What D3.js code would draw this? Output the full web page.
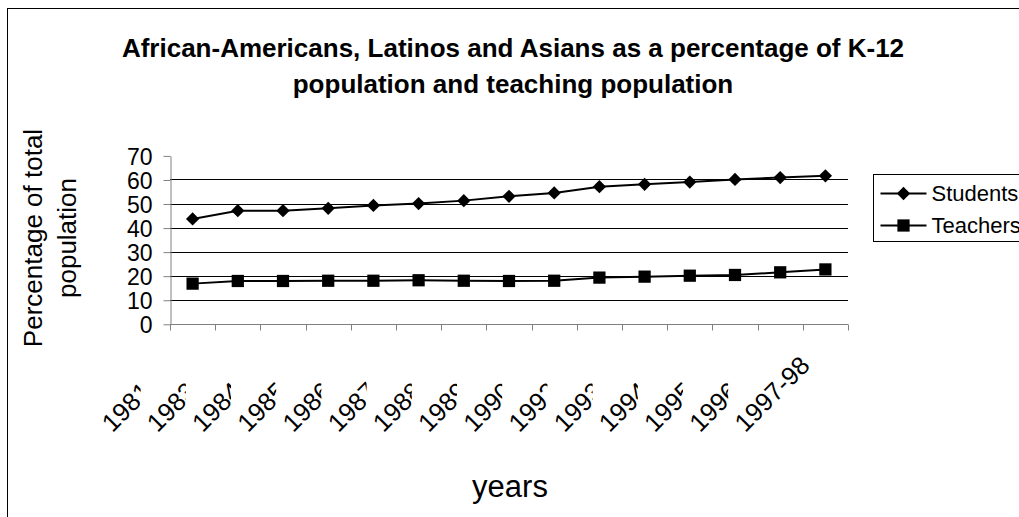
<!DOCTYPE html>
<html>
<head>
<meta charset="utf-8">
<script src="https://cdn.jsdelivr.net/npm/d3@7"></script>
<style>
  body { margin: 0; background: #fff; }
  svg { display: block; font-family: Arial, "Liberation Sans", sans-serif; }
</style>
</head>
<body>
<svg id="chart" width="1019" height="517"></svg>
<script>
const years = ['1981-82', '1983-84', '1984-85', '1985-86', '1986-87', '1987-88', '1988-89',
  '1989-90', '1990-91', '1992-93', '1993-94', '1994-95', '1995-96', '1996-97', '1997-98']
const students = [43.6, 47, 47, 48, 49.2, 50, 51.2, 53, 54.4, 57, 58, 58.9, 60, 60.8, 61.5]
const teachers = [16.7, 17.8, 17.8, 17.9, 17.9, 18.1, 17.9, 17.8, 17.9, 19.2, 19.6, 20, 20.3, 21.4, 22.6]
const yTicks = [0, 10, 20, 30, 40, 50, 60, 70]
const titleLines = ['African-Americans, Latinos and Asians as a percentage of K-12', 'population and teaching population']
const yTitleLines = ['Percentage of total', 'population']

const margin = { top: 155.4, bottom: 193.2, left: 170, right: 171 }
const width = 1019
const height = 517

const svg = d3.select('#chart')

const x = d3.scaleBand().domain(years).range([margin.left, width - margin.right]).padding(0)
const y = d3.scaleLinear().domain([0, 70]).range([height - margin.bottom, margin.top])

// outer chart border, runs off the page right and bottom
svg.append('rect')
    .attr('x', 7.5).attr('y', 8.5)
    .attr('width', 1200).attr('height', 700)
    .attr('fill', '#fff').attr('stroke', '#000').attr('stroke-width', 1)

// title
svg.append('text')
    .attr('text-anchor', 'middle')
    .style('font-weight', 'bold').style('font-size', '26px')
    .selectAll('tspan')
    .data(titleLines)
    .join('tspan')
    .attr('x', 513)
    .attr('y', (d, i) => 57 + i * 36)
    .text(d => d)

// gridlines
svg.append('g')
    .selectAll('line')
    .data(yTicks.filter(v => v > 0 && v < 70))
    .join('line')
    .attr('x1', margin.left).attr('x2', width - margin.right)
    .attr('y1', d => Math.round(y(d)) + 0.5).attr('y2', d => Math.round(y(d)) + 0.5)
    .attr('stroke', '#000').attr('stroke-width', 1)

// y axis
const yAxis = svg.append('g')
    .attr('transform', `translate(${margin.left + 0.5},0.5)`)
    .call(d3.axisLeft(y).tickValues(yTicks).tickSize(7).tickSizeOuter(0).tickPadding(11))
yAxis.select('.domain').attr('stroke', '#808080')
yAxis.selectAll('.tick line').attr('stroke', '#808080')
yAxis.selectAll('.tick text')
    .style('font-size', '23px').style('font-family', 'Arial, "Liberation Sans", sans-serif')
    .attr('fill', '#000')
    .attr('dy', '0.36em')

// x axis line and ticks at category boundaries
const y0 = Math.round(y(0)) + 0.5
svg.append('line')
    .attr('x1', margin.left).attr('x2', width - margin.right)
    .attr('y1', y0).attr('y2', y0)
    .attr('stroke', '#808080')
svg.append('g')
    .selectAll('line')
    .data(years.concat(['end']))
    .join('line')
    .attr('x1', (d, i) => Math.round(margin.left + i * x.bandwidth()) + 0.5)
    .attr('x2', (d, i) => Math.round(margin.left + i * x.bandwidth()) + 0.5)
    .attr('y1', y0).attr('y2', y0 + 6)
    .attr('stroke', '#808080')

// rotated category labels, each clipped to its slot like the original
const defs = svg.append('defs')
years.forEach((d, i) => {
    defs.append('clipPath').attr('id', 'clip' + i)
        .append('rect')
        .attr('x', 0)
        .attr('y', 0)
        .attr('width', i === years.length - 1 ? 2000 : x(d) + x.bandwidth() / 2 - 52)
        .attr('height', height)
})
svg.append('g')
    .selectAll('g')
    .data(years)
    .join('g')
    .attr('clip-path', (d, i) => `url(#clip${i})`)
    .append('text')
    .attr('transform', d => `translate(${x(d) + x.bandwidth() / 2 - 14},367) rotate(-45)`)
    .attr('text-anchor', 'end')
    .style('font-size', '25.5px')
    .text(d => d)

// axis titles
svg.append('text')
    .attr('transform', 'translate(0,238) rotate(-90)')
    .attr('text-anchor', 'middle')
    .style('font-size', '26px')
    .selectAll('tspan')
    .data(yTitleLines)
    .join('tspan')
    .attr('x', 0)
    .attr('y', (d, i) => 42 + i * 34)
    .text(d => d)

svg.append('text')
    .attr('x', 510).attr('y', 497)
    .attr('text-anchor', 'middle')
    .style('font-size', '31px')
    .text('years')

// series
const line = d3.line()
    .x((d, i) => x(years[i]) + x.bandwidth() / 2)
    .y(d => y(d))

const diamond = d3.symbol(d3.symbolSquare, 88)
const square = d3.symbol(d3.symbolSquare, 150)

svg.append('path').datum(students)
    .attr('d', line).attr('fill', 'none').attr('stroke', '#000').attr('stroke-width', 2)
svg.append('path').datum(teachers)
    .attr('d', line).attr('fill', 'none').attr('stroke', '#000').attr('stroke-width', 2)

svg.append('g')
    .selectAll('path')
    .data(students)
    .join('path')
    .attr('transform', (d, i) => `translate(${x(years[i]) + x.bandwidth() / 2},${y(d)}) rotate(45)`)
    .attr('d', diamond)
    .attr('fill', '#000')

svg.append('g')
    .selectAll('path')
    .data(teachers)
    .join('path')
    .attr('transform', (d, i) => `translate(${x(years[i]) + x.bandwidth() / 2},${y(d)})`)
    .attr('d', square)
    .attr('fill', '#000')

// legend
const legend = svg.append('g').attr('transform', 'translate(873.5,174.5)')
legend.append('rect')
    .attr('width', 300).attr('height', 67)
    .attr('fill', '#fff').attr('stroke', '#000')
const entries = [
    { name: 'Students', sym: diamond, rot: 45, cy: 19 },
    { name: 'Teachers', sym: square, rot: 0, cy: 51 }
]
const item = legend.selectAll('g.item')
    .data(entries)
    .join('g')
    .attr('class', 'item')
    .attr('transform', d => `translate(0,${d.cy})`)
item.append('line')
    .attr('x1', 7).attr('x2', 53)
    .attr('stroke', '#000').attr('stroke-width', 2)
item.append('path')
    .attr('transform', d => `translate(30,0) rotate(${d.rot})`)
    .attr('d', d => d.sym())
    .attr('fill', '#000')
item.append('text')
    .attr('x', 58).attr('dy', '0.36em')
    .style('font-size', '22px')
    .text(d => d.name)
</script>
</body>
</html>
